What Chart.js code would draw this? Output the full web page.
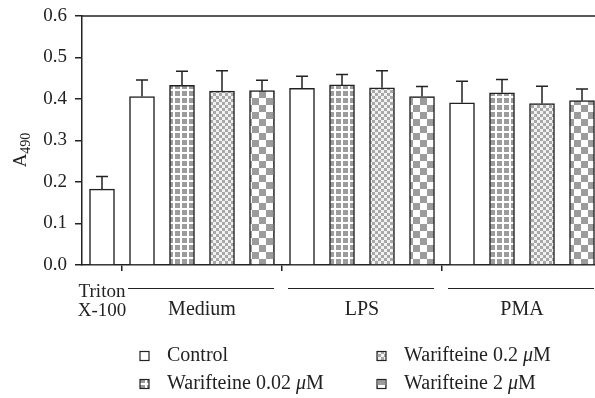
<!DOCTYPE html>
<html>
<head>
<meta charset="utf-8">
<script src="https://cdn.jsdelivr.net/npm/chart.js"></script>
<style>
  html, body { margin: 0; padding: 0; background: #fff; overflow: hidden; }
</style>
</head>
<body>
<canvas id="myChart" width="606" height="398"></canvas>
<script>
// groups along the x axis
var groups = ["Triton X-100", "Medium", "LPS", "PMA"];
var seriesNames = ["Control", "Warifteine 0.02 \u03bcM", "Warifteine 0.2 \u03bcM", "Warifteine 2 \u03bcM"];

// values per group (Triton, Medium, LPS, PMA)
var control = [0.183, 0.406, 0.426, 0.391];
var controlErr = [0.030, 0.040, 0.029, 0.052];
var wari002 = [null, 0.433, 0.434, 0.415];
var wari002Err = [null, 0.034, 0.025, 0.032];
var wari02 = [null, 0.419, 0.427, 0.389];
var wari02Err = [null, 0.049, 0.041, 0.042];
var wari2 = [null, 0.420, 0.406, 0.396];
var wari2Err = [null, 0.025, 0.024, 0.028];

var yTicks = [0, 0.1, 0.2, 0.3, 0.4, 0.5, 0.6];

var FONT = "'Liberation Serif', 'DejaVu Serif', serif";
var INK = "#222";

// patterns
function makePattern(kind) {
  var c = document.createElement("canvas");
  var g = c.getContext("2d");
  var gray = "#9c9c9c";
  if (kind === "white") {
    return "#fff";
  } else if (kind === "grid") {
    c.width = 7; c.height = 7;
    g.fillStyle = "#fff"; g.fillRect(0, 0, 7, 7);
    g.fillStyle = gray; g.fillRect(0, 0, 5, 5);
  } else if (kind === "fine") {
    c.width = 6; c.height = 6;
    g.fillStyle = "#f2f2f2"; g.fillRect(0, 0, 6, 6);
    g.fillStyle = "#a8a8a8"; g.fillRect(0, 0, 3, 3); g.fillRect(3, 3, 3, 3);
  } else {
    c.width = 14; c.height = 14;
    g.fillStyle = "#fff"; g.fillRect(0, 0, 14, 14);
    g.fillStyle = gray; g.fillRect(0, 0, 7, 7); g.fillRect(7, 7, 7, 7);
  }
  return document.getElementById("myChart").getContext("2d").createPattern(c, "repeat");
}
var fills = [makePattern("white"), makePattern("grid"), makePattern("fine"), makePattern("check")];

// one slot per bar
var allValues = [control, wari002, wari02, wari2];
var allErrors = [controlErr, wari002Err, wari02Err, wari2Err];
var slots = [];
groups.forEach(function (g, gi) {
  allValues.forEach(function (vals, si) {
    if (vals[gi] !== null) slots.push({ group: gi, series: si });
  });
});
var labels = slots.map(function (s) { return groups[s.group]; });
var boundaries = [];
for (var i = 1; i < slots.length; i++) {
  if (slots[i].group !== slots[i - 1].group) boundaries.push(i);
}

var datasets = allValues.map(function (vals, si) {
  return {
    label: seriesNames[si],
    data: slots.map(function (s) { return s.series === si ? vals[s.group] : null; }),
    errors: slots.map(function (s) { return s.series === si ? allErrors[si][s.group] : null; }),
    backgroundColor: fills[si],
    borderColor: INK,
    borderWidth: 1.5,
    skipNull: true,
    maxBarThickness: 25,
    categoryPercentage: 1,
    barPercentage: 1
  };
});

// text with an italic mu
function drawName(ctx, text, x, y, size) {
  var parts = text.split("\u03bc");
  ctx.font = size + "px " + FONT;
  ctx.fillText(parts[0], x, y);
  if (parts.length < 2) return;
  x += ctx.measureText(parts[0]).width;
  ctx.font = "italic " + size + "px " + FONT;
  ctx.fillText("\u03bc", x, y);
  x += ctx.measureText("\u03bc").width;
  ctx.font = size + "px " + FONT;
  ctx.fillText(parts[1], x, y);
}

var extras = {
  id: "extras",
  afterDatasetsDraw: function (chart) {
    var ctx = chart.ctx;
    var y = chart.scales.y;
    ctx.save();
    ctx.strokeStyle = INK;
    ctx.lineWidth = 1.5;
    chart.data.datasets.forEach(function (ds, di) {
      var meta = chart.getDatasetMeta(di);
      meta.data.forEach(function (bar, i) {
        if (ds.data[i] === null) return;
        var top = y.getPixelForValue(ds.data[i] + ds.errors[i]);
        ctx.beginPath();
        ctx.moveTo(bar.x, bar.y);
        ctx.lineTo(bar.x, top);
        ctx.moveTo(bar.x - 6, top);
        ctx.lineTo(bar.x + 6, top);
        ctx.stroke();
      });
    });
    ctx.restore();
  },
  afterDraw: function (chart) {
    var ctx = chart.ctx;
    var a = chart.chartArea;
    var x = chart.scales.x;
    ctx.save();
    ctx.strokeStyle = INK;
    ctx.lineWidth = 1.5;
    // top frame line
    ctx.beginPath();
    ctx.moveTo(a.left, a.top);
    ctx.lineTo(chart.width, a.top);
    ctx.stroke();

    // group labels
    ctx.fillStyle = INK;
    ctx.font = "20px " + FONT;
    ctx.textAlign = "center";
    ctx.textBaseline = "middle";
    var half = (x.getPixelForValue(1) - x.getPixelForValue(0)) / 2;
    groups.forEach(function (g, gi) {
      var idx = [];
      slots.forEach(function (s, i) { if (s.group === gi) idx.push(i); });
      var x0 = x.getPixelForValue(idx[0]);
      var x1 = x.getPixelForValue(idx[idx.length - 1]);
      if (idx.length === 1) {
        var words = g.split(" ");
        ctx.font = "19px " + FONT;
        ctx.fillText(words[0], x0, a.bottom + 27);
        ctx.fillText(words[1], x0, a.bottom + 46);
        ctx.font = "20px " + FONT;
      } else {
        ctx.lineWidth = 1;
        ctx.beginPath();
        ctx.moveTo(x0 - half + 6, a.bottom + 23.5);
        ctx.lineTo(Math.min(x1 + half - 8, chart.width), a.bottom + 23.5);
        ctx.stroke();
        ctx.fillText(g, (x0 + x1) / 2, a.bottom + 45);
      }
    });

    // y title A490
    ctx.save();
    ctx.translate(20, 150);
    ctx.rotate(-Math.PI / 2);
    ctx.textAlign = "left";
    ctx.textBaseline = "alphabetic";
    ctx.font = "19px " + FONT;
    var wA = ctx.measureText("A").width;
    ctx.font = "14px " + FONT;
    var wS = ctx.measureText("490").width;
    var sx = -(wA + wS) / 2;
    ctx.font = "19px " + FONT;
    ctx.fillText("A", sx, 6);
    ctx.font = "14px " + FONT;
    ctx.fillText("490", sx + wA, 10);
    ctx.restore();

    // legend in two columns
    var cols = [140, 377];
    var rows = [356, 384];
    var order = [[0, 0, 0], [2, 1, 0], [1, 0, 1], [3, 1, 1]];
    ctx.textAlign = "left";
    ctx.textBaseline = "middle";
    order.forEach(function (o) {
      var lx = cols[o[1]], ly = rows[o[2]];
      ctx.fillStyle = fills[o[0]];
      ctx.fillRect(lx, ly - 4.5, 9, 9);
      ctx.lineWidth = 1.2;
      ctx.strokeRect(lx, ly - 4.5, 9, 9);
      ctx.fillStyle = INK;
      drawName(ctx, seriesNames[o[0]], lx + 27, ly, 20);
    });
    ctx.restore();
  }
};

var ctx = document.getElementById("myChart").getContext("2d");
var myChart = new Chart(ctx, {
  type: "bar",
  data: { labels: labels, datasets: datasets },
  options: {
    responsive: false,
    animation: false,
    layout: { padding: { top: 16, right: 4, left: 0, bottom: 0 } },
    plugins: {
      legend: { display: false },
      tooltip: { enabled: false }
    },
    scales: {
      x: {
        offset: true,
        ticks: { display: false, autoSkip: false },
        grid: {
          offset: true,
          drawOnChartArea: false,
          tickLength: 6,
          lineWidth: 1.5,
          color: function (c) { return boundaries.indexOf(c.index) >= 0 ? INK : "rgba(0,0,0,0)"; }
        },
        border: { color: INK, width: 1.5 },
        afterFit: function (s) { s.height = 133; }
      },
      y: {
        min: 0,
        max: 0.6,
        afterBuildTicks: function (s) { s.ticks = yTicks.map(function (v) { return { value: v }; }); },
        ticks: {
          padding: 8,
          color: INK,
          font: { family: FONT, size: 19 },
          callback: function (v) { return v.toFixed(1); }
        },
        grid: { drawOnChartArea: false, tickLength: 7, color: INK, lineWidth: 1.5 },
        border: { color: INK, width: 1.5 },
        afterFit: function (s) { s.width = 82; s.paddingTop = 0; s.paddingBottom = 0; }
      }
    }
  },
  plugins: [extras]
});
</script>
</body>
</html>
